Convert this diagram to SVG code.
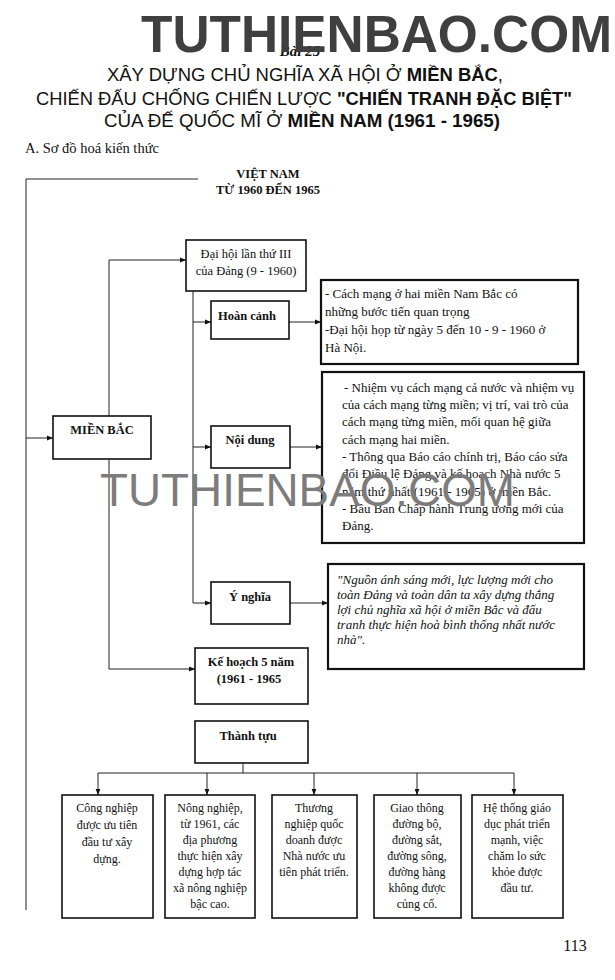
<svg xmlns="http://www.w3.org/2000/svg" width="615" height="980" viewBox="0 0 615 980">
<style>
.bg{fill:#fff}
.box{fill:#fff;stroke:#111;stroke-width:1.6}
.tbox{fill:#fff;stroke:#111;stroke-width:2.2}
.ln{fill:none;stroke:#222;stroke-width:1}
.t{font-family:"Liberation Serif","DejaVu Serif",serif;font-size:12.5px;fill:#111}
.b{font-weight:bold}
.c{text-anchor:middle}
.body{font-family:"Liberation Serif","DejaVu Serif",serif;font-size:13px;fill:#111}
.it{font-style:italic}
.title{font-family:"Liberation Sans","Arial",sans-serif;font-size:18px;fill:#111;text-anchor:middle}
.small{font-family:"Liberation Serif","DejaVu Serif",serif;font-size:12px;fill:#111;text-anchor:middle}
</style>
<defs>
<marker id="ah" viewBox="0 0 10 10" refX="10" refY="5" markerWidth="6" markerHeight="6" orient="auto" markerUnits="userSpaceOnUse">
<path d="M0,1 L10,5 L0,9 z" fill="#111"/>
</marker>
</defs>
<rect class="bg" x="0" y="0" width="615" height="980"/>

<!-- Header -->
<g id="header">
<text x="300" y="56" font-family="Liberation Serif, serif" font-size="15" font-weight="bold" font-style="italic" text-anchor="middle" fill="#111">Bài 25</text>
<text x="141" y="52" font-family="Liberation Sans, Arial, sans-serif" font-size="51" font-weight="bold" fill="#3f3f3f" textLength="471" lengthAdjust="spacingAndGlyphs">TUTHIENBAO.COM</text>
<text class="title" x="305" y="81" textLength="396" lengthAdjust="spacingAndGlyphs">XÂY DỰNG CHỦ NGHĨA XÃ HỘI Ở <tspan font-weight="bold">MIỀN BẮC</tspan>,</text>
<text class="title" x="304" y="105" textLength="536" lengthAdjust="spacingAndGlyphs">CHIẾN ĐẤU CHỐNG CHIẾN LƯỢC <tspan font-weight="bold">"CHIẾN TRANH ĐẶC BIỆT"</tspan></text>
<text class="title" x="302" y="127" textLength="396" lengthAdjust="spacingAndGlyphs">CỦA ĐẾ QUỐC MĨ Ở <tspan font-weight="bold">MIỀN NAM (1961 - 1965)</tspan></text>
<text x="25" y="153" font-family="Liberation Serif, serif" font-size="14.5" fill="#111">A. Sơ đồ hoá kiến thức</text>
</g>

<!-- Connectors -->
<g id="connectors">
<polyline class="ln" points="198,179 26,179 26,910"/>
<line class="ln" x1="26" y1="438" x2="53" y2="438" marker-end="url(#ah)"/>
<polyline class="ln" points="109,416 109,260 186,260" marker-end="url(#ah)"/>
<polyline class="ln" points="109,459 109,669 195,669" marker-end="url(#ah)"/>
<line class="ln" x1="193" y1="291" x2="193" y2="603"/>
<line class="ln" x1="193" y1="322" x2="211" y2="322" marker-end="url(#ah)"/>
<line class="ln" x1="193" y1="447" x2="211" y2="447" marker-end="url(#ah)"/>
<line class="ln" x1="193" y1="603" x2="211" y2="603" marker-end="url(#ah)"/>
<line class="ln" x1="289" y1="322" x2="321" y2="322" marker-end="url(#ah)"/>
<line class="ln" x1="290" y1="447" x2="322" y2="447" marker-end="url(#ah)"/>
<line class="ln" x1="290" y1="603" x2="328" y2="603" marker-end="url(#ah)"/>
<line class="ln" x1="243" y1="763" x2="243" y2="773"/>
<line class="ln" x1="98" y1="773" x2="514" y2="773"/>
<line class="ln" x1="98" y1="773" x2="98" y2="795" marker-end="url(#ah)"/>
<line class="ln" x1="207" y1="773" x2="207" y2="795" marker-end="url(#ah)"/>
<line class="ln" x1="314" y1="773" x2="314" y2="795" marker-end="url(#ah)"/>
<line class="ln" x1="417" y1="773" x2="417" y2="795" marker-end="url(#ah)"/>
<line class="ln" x1="514" y1="773" x2="514" y2="795" marker-end="url(#ah)"/>
</g>

<g id="vietnam">
<text class="t b c" x="268" y="178" font-size="13">VIỆT NAM</text>
<text class="t b c" x="268" y="194" font-size="13">TỪ 1960 ĐẾN 1965</text>
</g>

<g id="mienbac">
<rect class="box" x="53" y="416" width="98" height="43"/>
<text class="t b c" x="102" y="434">MIỀN BẮC</text>
</g>

<g id="daihoi">
<rect class="box" x="186" y="240" width="120" height="51"/>
<text class="t c" x="246" y="258">Đại hội lần thứ III</text>
<text class="t c" x="246" y="275">của Đảng (9 - 1960)</text>
</g>

<g id="hoancanh">
<rect class="box" x="211" y="301" width="78" height="38"/>
<text class="t b c" x="247" y="320">Hoàn cảnh</text>
</g>

<g id="hoancanh-nd">
<rect class="tbox" x="321" y="280" width="257" height="84"/>
<text class="body" x="325" y="298">- Cách mạng ở hai miền Nam Bắc có</text>
<text class="body" x="325" y="316">những bước tiến quan trọng</text>
<text class="body" x="325" y="334">-Đại hội họp từ ngày 5 đến 10 - 9 - 1960 ở</text>
<text class="body" x="325" y="352">Hà Nội.</text>
</g>

<g id="noidung">
<rect class="box" x="211" y="426" width="79" height="42"/>
<text class="t b c" x="250" y="444">Nội dung</text>
</g>

<g id="noidung-nd">
<rect class="tbox" x="322" y="372" width="262" height="171"/>
<text class="body" x="344" y="392">- Nhiệm vụ cách mạng cả nước và nhiệm vụ</text>
<text class="body" x="342" y="409">của cách mạng từng miền; vị trí, vai trò của</text>
<text class="body" x="342" y="426">cách mạng từng miền, mối quan hệ giữa</text>
<text class="body" x="342" y="444">cách mạng hai miền.</text>
<text class="body" x="342" y="461">- Thông qua Báo cáo chính trị, Báo cáo sửa</text>
<text class="body" x="342" y="478">đổi Điều lệ Đảng và kế hoạch Nhà nước 5</text>
<text class="body" x="342" y="496">năm thứ nhất (1961 - 1965) ở miền Bắc.</text>
<text class="body" x="342" y="513">- Bầu Ban Chấp hành Trung ương mới của</text>
<text class="body" x="342" y="530">Đảng.</text>
</g>

<g id="ynghia">
<rect class="box" x="211" y="582" width="79" height="42"/>
<text class="t b c" x="250" y="601">Ý nghĩa</text>
</g>

<g id="ynghia-nd">
<rect class="tbox" x="328" y="564" width="256" height="105"/>
<text class="body it" x="337" y="584">"Nguồn ánh sáng mới, lực lượng mới cho</text>
<text class="body it" x="337" y="599">toàn Đảng và toàn dân ta xây dựng thắng</text>
<text class="body it" x="337" y="614">lợi chủ nghĩa xã hội ở miền Bắc và đấu</text>
<text class="body it" x="337" y="629">tranh thực hiện hoà bình thống nhất nước</text>
<text class="body it" x="337" y="644">nhà".</text>
</g>

<g id="kehoach">
<rect class="box" x="195" y="648" width="113" height="56"/>
<text class="t b c" x="251" y="666">Kế hoạch 5 năm</text>
<text class="t b c" x="249" y="683">(1961 - 1965</text>
</g>

<g id="thanhtuu">
<rect class="box" x="195" y="721" width="113" height="42"/>
<text class="t b c" x="248" y="740">Thành tựu</text>
</g>

<g id="congnghiep">
<rect class="box" x="62" y="795" width="91" height="123"/>
<text class="small" x="107" y="812">Công nghiệp</text>
<text class="small" x="107" y="829">được ưu tiên</text>
<text class="small" x="107" y="846">đầu tư xây</text>
<text class="small" x="107" y="863">dựng.</text>
</g>

<g id="nongnghiep">
<rect class="box" x="165" y="795" width="90" height="123"/>
<text class="small" x="210" y="812">Nông nghiệp,</text>
<text class="small" x="210" y="828">từ 1961, các</text>
<text class="small" x="210" y="844">địa phương</text>
<text class="small" x="210" y="860">thực hiện xây</text>
<text class="small" x="210" y="876">dựng hợp tác</text>
<text class="small" x="210" y="892">xã nông nghiệp</text>
<text class="small" x="210" y="908">bậc cao.</text>
</g>

<g id="thuongnghiep">
<rect class="box" x="272" y="795" width="85" height="123"/>
<text class="small" x="314" y="812">Thương</text>
<text class="small" x="314" y="828">nghiệp quốc</text>
<text class="small" x="314" y="844">doanh được</text>
<text class="small" x="314" y="860">Nhà nước ưu</text>
<text class="small" x="314" y="876">tiên phát triển.</text>
</g>

<g id="giaothong">
<rect class="box" x="374" y="795" width="87" height="123"/>
<text class="small" x="417" y="812">Giao thông</text>
<text class="small" x="417" y="828">đường bộ,</text>
<text class="small" x="417" y="844">đường sắt,</text>
<text class="small" x="417" y="860">đường sông,</text>
<text class="small" x="417" y="876">đường hàng</text>
<text class="small" x="417" y="892">không được</text>
<text class="small" x="417" y="908">củng cố.</text>
</g>

<g id="giaoduc">
<rect class="box" x="472" y="795" width="91" height="123"/>
<text class="small" x="517" y="812">Hệ thống giáo</text>
<text class="small" x="517" y="828">dục phát triển</text>
<text class="small" x="517" y="844">mạnh, việc</text>
<text class="small" x="517" y="860">chăm lo sức</text>
<text class="small" x="517" y="876">khỏe được</text>
<text class="small" x="517" y="892">đầu tư.</text>
</g>

<g id="watermark">
<text x="100" y="506" font-family="Liberation Sans, Arial, sans-serif" font-size="46" fill="#7c7c7c" textLength="415" lengthAdjust="spacingAndGlyphs">TUTHIENBAO.COM</text>
</g>

<text x="575" y="951" font-family="Liberation Serif, serif" font-size="16" fill="#111" text-anchor="middle">113</text>
</svg>
